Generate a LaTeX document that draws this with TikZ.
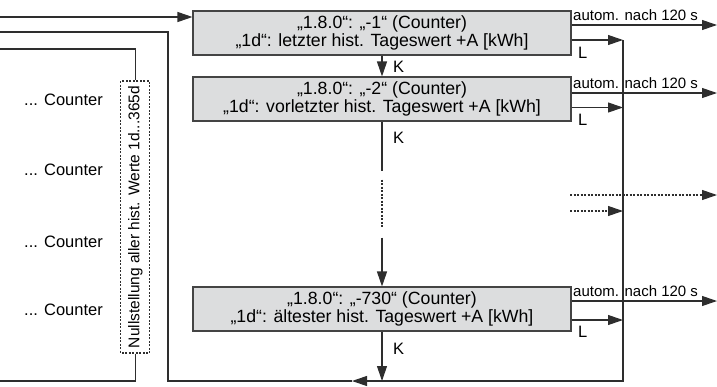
\documentclass[tikz,border=0pt]{standalone}
\usepackage{fontspec}
\setmainfont{Liberation Sans}
\usetikzlibrary{arrows.meta}
\definecolor{lc}{HTML}{2E2E2E}
\definecolor{bc}{HTML}{444444}
\definecolor{bf}{HTML}{DCDDDE}
\begin{document}
\begin{tikzpicture}[x=1pt,y=-1pt,
  ln/.style={draw=lc, line width=1.1pt},
  arr/.style={ln, -{Triangle[length=15pt,width=10pt]}},
  dsh/.style={ln, dash pattern=on 2pt off 1.5pt},
  box/.style={draw=bc, fill=bf, line width=1.1pt, minimum width=378pt, minimum height=44pt, inner sep=0pt, align=center, font=\fontsize{17.7}{17.7}\selectfont},
  lbl/.style={font=\fontsize{16.5}{18}\selectfont, inner sep=0pt},
  small/.style={font=\fontsize{15}{16}\selectfont, inner sep=0pt}]
\useasboundingbox (0,0) rectangle (717,386);

% boxes
\node[box] (b1) at (382,33) {„1.8.0“: „-1“ (Counter)\\„1d“: letzter hist. Tageswert +A [kWh]};
\node[box] (b2) at (382,99) {„1.8.0“: „-2“ (Counter)\\„1d“: vorletzter hist. Tageswert +A [kWh]};
\node[box] (b3) at (382,309) {„1.8.0“: „-730“ (Counter)\\„1d“: ältester hist. Tageswert +A [kWh]};

% dashed reset box
\node[draw=lc, dash pattern=on 2pt off 1.5pt, line width=1.1pt, rotate=90,
      minimum width=272pt, minimum height=29pt, inner sep=0pt,
      font=\fontsize{15.5}{16}\selectfont] (nz) at (135.3,217) {Nullstellung aller hist. Werte 1d...365d};

% counters
\node[lbl, anchor=east] (c1) at (103,100) {... Counter};
\node[lbl, anchor=east] (c2) at (103,170) {... Counter};
\node[lbl, anchor=east] (c3) at (103,242) {... Counter};
\node[lbl, anchor=east] (c4) at (103,310) {... Counter};

% left inputs
\coordinate (inA) at (0,17);
\coordinate (inB) at (0,32);
\coordinate (inC) at (0,49);
\coordinate (inD) at (0,381);
\coordinate (rv) at (623,40);
\coordinate (bl) at (623,381);
\coordinate (ma) at (352,381);
\coordinate (lc1) at (168,381);
\coordinate (lc2) at (168,32);

\draw[arr] (inA) -- (inA -| b1.west);
\draw[arr] (rv) -- (bl) -- (ma);
\draw[ln] (ma) -- (lc1) -- (lc2) -- (inB);
\draw[ln] (inC) -| (nz.east);
\draw[ln] (nz.west) |- (inD);

% K chain
\draw[arr] (b1.south) -- (b2.north);
\node[lbl, anchor=west] (k1) at (393,66.7) {K};
\path (b2.south) ++(0,49) coordinate (d1) ++(0,9) coordinate (d2) ++(0,49) coordinate (d3) ++(0,9) coordinate (d4);
\draw[ln] (b2.south) -- (d1);
\draw[dsh] (d2) -- (d3);
\draw[arr] (d4) -- (b3.north);
\node[lbl, anchor=west] (k2) at (393,138.3) {K};
\draw[arr] (b3.south) -- (b3.south |- bl);
\node[lbl, anchor=west] (k3) at (393,349.3) {K};

% right outputs
\coordinate (o1) at (717,25);
\coordinate (o2) at (717,93);
\coordinate (o3) at (717,301);
\coordinate (l1) at (623,40);
\coordinate (l2) at (623,107.5);
\coordinate (l3) at (623,320);
\draw[arr] (b1.east |- o1) -- (o1);
\draw[arr] (b2.east |- o2) -- (o2);
\draw[arr] (b3.east |- o3) -- (o3);
\draw[arr] (b1.east |- l1) -- (l1);
\draw[arr] (b2.east |- l2) -- (l2);
\draw[arr] (b3.east |- l3) -- (l3);
\node[small, anchor=base west] (t1) at (573,20) {autom. nach 120 s};
\node[small, anchor=base west] (t2) at (573,88) {autom. nach 120 s};
\node[small, anchor=base west] (t3) at (573,296) {autom. nach 120 s};
\node[lbl, anchor=west] (L1) at (578,52.5) {L};
\node[lbl, anchor=west] (L2) at (578,120) {L};
\node[lbl, anchor=west] (L3) at (578,332) {L};

% dotted continuation
\coordinate (e1) at (570,195);
\coordinate (e2) at (717,195);
\coordinate (e3) at (570,211);
\coordinate (e4) at (623,211);
\draw[dsh, -{Triangle[length=15pt,width=10pt]}] (e1) -- (e2);
\draw[dsh, -{Triangle[length=15pt,width=10pt]}] (e3) -- (e4);
\end{tikzpicture}
\end{document}
